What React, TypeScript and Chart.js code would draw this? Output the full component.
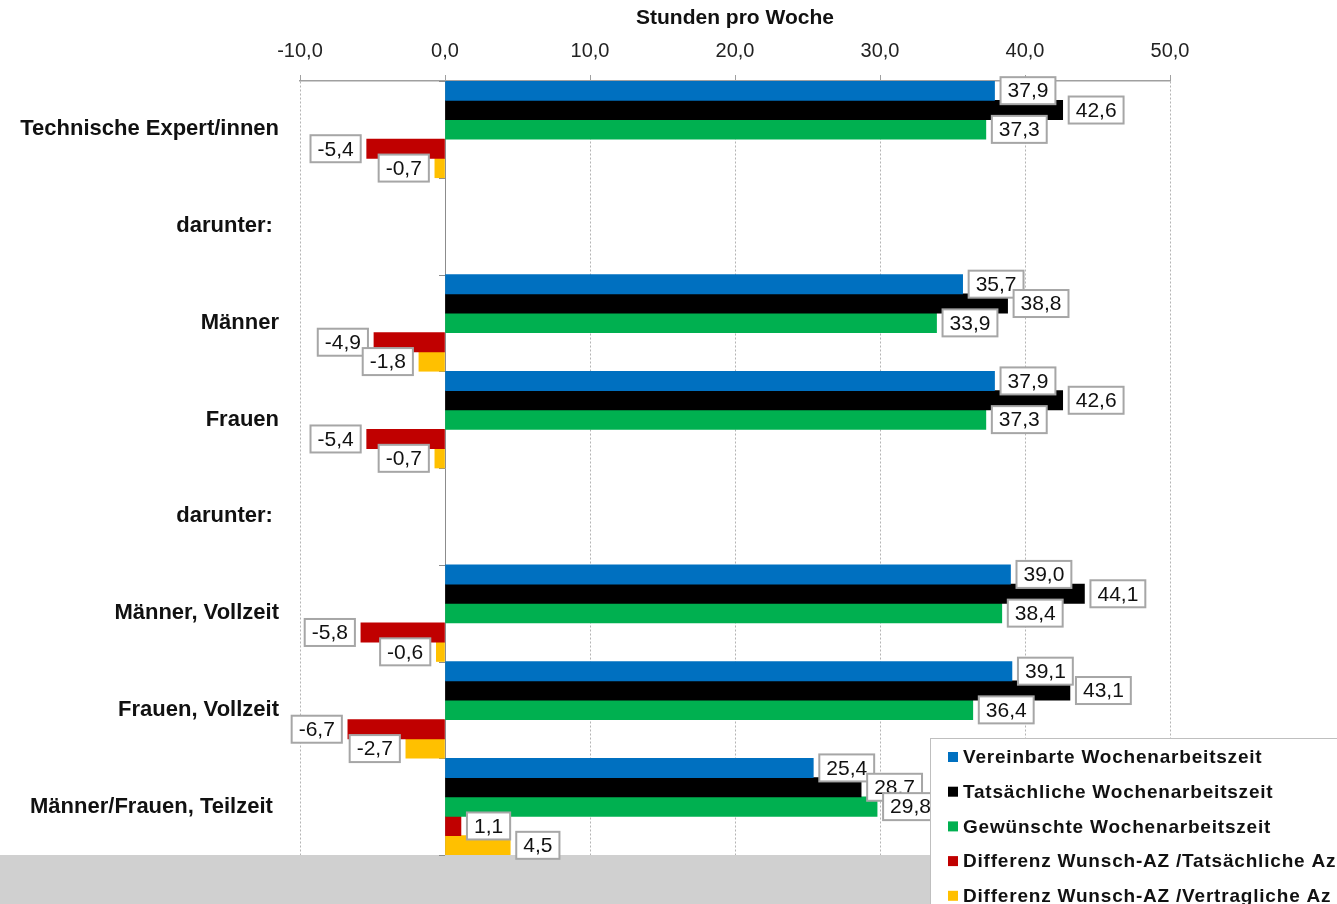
import { useEffect, useRef } from "react";
import { Chart, registerables } from "chart.js";

Chart.register(...registerables);

// Row labels (top to bottom) and the five series, in hours per week
const categories = [
  "Technische Expert/innen",
  "darunter: ",
  "Männer",
  "Frauen",
  "darunter: ",
  "Männer, Vollzeit",
  "Frauen, Vollzeit",
  "Männer/Frauen, Teilzeit ",
];
const vereinbarte = [37.9, null, 35.7, 37.9, null, 39.0, 39.1, 25.4];
const tatsaechliche = [42.6, null, 38.8, 42.6, null, 44.1, 43.1, 28.7];
const gewuenschte = [37.3, null, 33.9, 37.3, null, 38.4, 36.4, 29.8];
const diffTatsaechlich = [-5.4, null, -4.9, -5.4, null, -5.8, -6.7, 1.1];
const diffVertraglich = [-0.7, null, -1.8, -0.7, null, -0.6, -2.7, 4.5];

const seriesNames = [
  "Vereinbarte Wochenarbeitszeit",
  "Tatsächliche Wochenarbeitszeit",
  "Gewünschte Wochenarbeitszeit",
  "Differenz Wunsch-AZ /Tatsächliche Az",
  "Differenz Wunsch-AZ /Vertragliche Az",
];
const seriesColors = ["#0070C0", "#000000", "#00B050", "#C00000", "#FFC000"];

const axisTitle = "Stunden pro Woche";
const axisMin = -10;
const axisMax = 50;
const axisStep = 10;

const FONT = "'Liberation Sans', Arial, Helvetica, sans-serif";

const fmt = (v: number) => Number(v).toFixed(1).replace(".", ",");

// Grey strip along the bottom edge, below the plot area
const bottomBand = {
  id: "bottomBand",
  beforeDraw(chart: any) {
    const { ctx, width, height, chartArea } = chart;
    ctx.save();
    ctx.fillStyle = "#d0d0d0";
    ctx.fillRect(0, chartArea.bottom, width, height - chartArea.bottom);
    ctx.restore();
  },
};

// Small category separators on the zero line
const zeroTicks = {
  id: "zeroTicks",
  beforeDatasetsDraw(chart: any) {
    const { ctx, scales } = chart;
    const x0 = scales.x.getPixelForValue(0);
    ctx.save();
    ctx.strokeStyle = "#8c8c8c";
    ctx.lineWidth = 1;
    for (let i = 0; i <= categories.length; i++) {
      const y = Math.round(scales.y.getPixelForValue(i - 0.5)) + 0.5;
      ctx.beginPath();
      ctx.moveTo(x0 - 6, y);
      ctx.lineTo(x0, y);
      ctx.stroke();
    }
    ctx.restore();
  },
};

// Boxed value labels at the end of each bar
const valueLabels = {
  id: "valueLabels",
  afterDatasetsDraw(chart: any) {
    const ctx = chart.ctx;
    ctx.save();
    ctx.font = `21px ${FONT}`;
    ctx.textBaseline = "middle";
    ctx.textAlign = "center";
    chart.data.datasets.forEach((ds: any, di: number) => {
      const meta = chart.getDatasetMeta(di);
      meta.data.forEach((el: any, i: number) => {
        const v = ds.data[i];
        if (v === null || v === undefined) return;
        const text = fmt(v);
        const w = ctx.measureText(text).width + 14;
        const h = 27;
        const gap = 6;
        const bx = v >= 0 ? el.x + gap : el.x - gap - w;
        const by = el.y - h / 2;
        ctx.fillStyle = "#ffffff";
        ctx.fillRect(bx, by, w, h);
        ctx.strokeStyle = "#a6a6a6";
        ctx.lineWidth = 2;
        ctx.strokeRect(bx, by, w, h);
        ctx.fillStyle = "#111111";
        ctx.fillText(text, bx + w / 2, el.y + 1);
      });
    });
    ctx.restore();
  },
};

// Legend box in the lower right corner
const cornerLegend = {
  id: "cornerLegend",
  afterDraw(chart: any) {
    const { ctx, width, height } = chart;
    const left = 930;
    const top = 738;
    ctx.save();
    ctx.fillStyle = "#ffffff";
    ctx.fillRect(left, top, width - left + 2, height - top + 2);
    ctx.strokeStyle = "#bfbfbf";
    ctx.lineWidth = 1;
    ctx.strokeRect(left + 0.5, top + 0.5, width - left + 4, height - top + 4);
    ctx.font = `bold 19px ${FONT}`;
    if ("letterSpacing" in ctx) (ctx as any).letterSpacing = "0.8px";
    ctx.textBaseline = "middle";
    ctx.textAlign = "left";
    chart.data.datasets.forEach((ds: any, i: number) => {
      const cy = 757 + i * 34.7;
      ctx.fillStyle = ds.backgroundColor;
      ctx.fillRect(948, cy - 5, 10, 10);
      ctx.fillStyle = "#111111";
      ctx.fillText(ds.label, 963, cy + 1);
    });
    ctx.restore();
  },
};

export default function App() {
  const canvasRef = useRef<HTMLCanvasElement | null>(null);

  useEffect(() => {
    if (!canvasRef.current) return;
    const seriesData = [vereinbarte, tatsaechliche, gewuenschte, diffTatsaechlich, diffVertraglich];
    const chart = new Chart(canvasRef.current, {
      type: "bar",
      data: {
        labels: categories,
        datasets: seriesData.map((d, i) => ({
          label: seriesNames[i],
          data: d,
          backgroundColor: seriesColors[i],
          borderWidth: 0,
          categoryPercentage: 1,
          barPercentage: 1,
        })),
      },
      options: {
        indexAxis: "y",
        responsive: false,
        animation: false,
        devicePixelRatio: 1,
        layout: { padding: { left: 0, right: 167, top: 0, bottom: 49 } },
        plugins: {
          legend: { display: false },
          tooltip: { enabled: false },
        },
        scales: {
          x: {
            position: "top",
            min: axisMin,
            max: axisMax,
            afterFit: (s: any) => {
              s.height = 81;
            },
            ticks: {
              stepSize: axisStep,
              callback: (v: any) => fmt(v),
              font: { family: FONT, size: 20 },
              color: "#222222",
              padding: 12,
            },
            grid: {
              color: (c: any) => (c.tick && c.tick.value === 0 ? "#8c8c8c" : "#b4b4b4"),
              lineWidth: 1,
              drawTicks: true,
              tickLength: 6,
              tickColor: "#a0a0a0",
            },
            border: {
              display: true,
              color: "#a0a0a0",
              width: 1.5,
              dash: (c: any) => (c.tick && c.tick.value === 0 ? [] : [2, 2]),
            },
            title: {
              display: true,
              text: axisTitle,
              color: "#111111",
              font: { family: FONT, size: 21, weight: "bold" },
              padding: { top: 6, bottom: 0 },
            },
          },
          y: {
            afterFit: (s: any) => {
              s.width = 300;
            },
            ticks: {
              font: { family: FONT, size: 22, weight: "bold" },
              color: "#111111",
              padding: 21,
            },
            grid: { display: false, drawTicks: false },
            border: { display: false },
          },
        },
      },
      plugins: [bottomBand, zeroTicks, valueLabels, cornerLegend],
    } as any);
    return () => chart.destroy();
  }, []);

  return (
    <div style={{ position: "absolute", left: 0, top: 0, width: 1337, height: 904, background: "#ffffff" }}>
      <canvas ref={canvasRef} width={1337} height={904} style={{ display: "block" }} />
    </div>
  );
}
